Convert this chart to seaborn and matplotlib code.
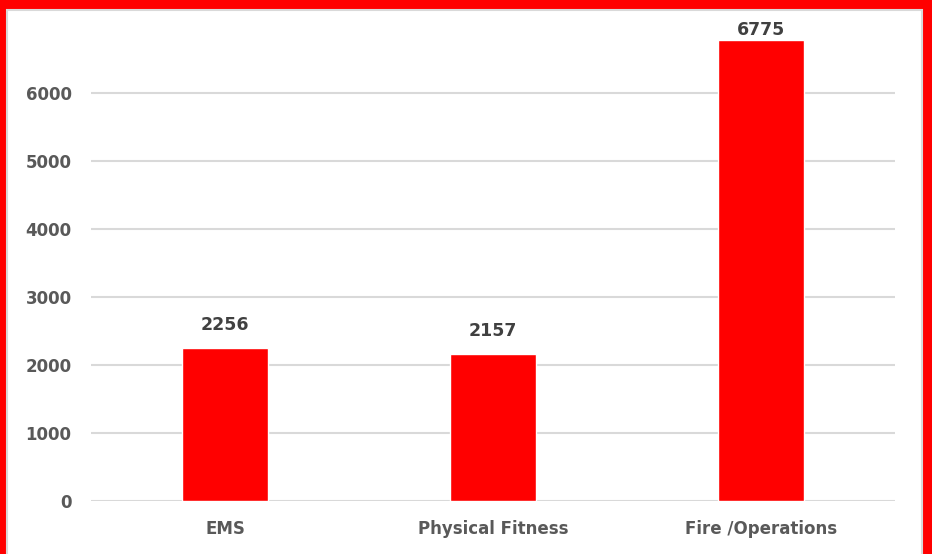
import pandas as pd
import matplotlib.pyplot as plt
import seaborn as sns
from matplotlib.patches import Rectangle

# dados do gráfico
categorias = ['EMS', 'Physical Fitness', 'Fire /Operations']
valores = [2256, 2157, 6775]
marcas_y = [0, 1000, 2000, 3000, 4000, 5000, 6000]

df = pd.DataFrame({'Categoria': categorias, 'Valor': valores})

sns.set_style('white')
plt.rcParams['font.family'] = ['DejaVu Sans']

fig = plt.figure(figsize=(9.32, 5.54), dpi=100)
fig.patch.set_facecolor('#ff0000')

# fundo branco dentro da moldura vermelha
fundo = fig.add_axes([0, 0, 1, 1], zorder=-1)
fundo.set_axis_off()
fundo.set_xlim(0, 932)
fundo.set_ylim(554, 0)
fundo.add_patch(Rectangle((7, 10), 922 - 7, 560, facecolor='white',
                          edgecolor='#d9d9d9', linewidth=1.5))

ax = fig.add_axes([91 / 932, 53 / 554, (895 - 91) / 932, (501 - 12) / 554])
ax.set_facecolor('none')

sns.barplot(data=df, x='Categoria', y='Valor', color='#ff0000', width=0.32,
            saturation=1, ax=ax, zorder=3)

ax.set_ylim(0, 7190)
ax.set_yticks(marcas_y)
ax.set_xlim(-0.5, 2.5)
ax.grid(axis='y', color='#d9d9d9', linewidth=1.5, zorder=0)
ax.set_axisbelow(True)
for s in ax.spines.values():
    s.set_visible(False)

ax.set_xlabel('')
ax.set_ylabel('')
ax.tick_params(axis='y', length=0, pad=14, labelsize=12, labelcolor='#595959')
ax.tick_params(axis='x', length=0, pad=14, labelsize=12, labelcolor='#595959')
for t in ax.get_xticklabels() + ax.get_yticklabels():
    t.set_fontweight('bold')

# rótulos de dados (o último fica colado ao topo da barra, como no original)
for c in ax.containers:
    rotulos = ax.bar_label(c, fmt='%d', padding=10, fontsize=12.5,
                           fontweight='bold', color='#404040')
    rotulos[-1].set_position((0, 1))

fig.savefig('out.png', dpi=100, facecolor=fig.get_facecolor())
